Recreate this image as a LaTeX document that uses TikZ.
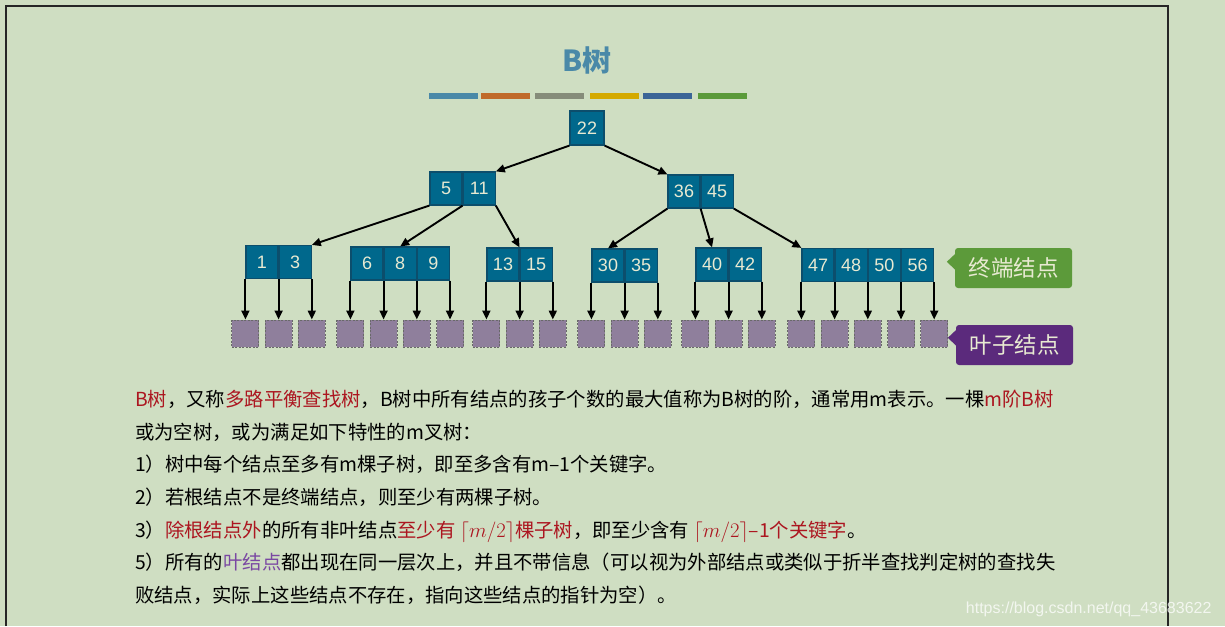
\documentclass[tikz,border=0pt]{standalone}
\usepackage{fontspec}
\setmainfont{Noto Sans CJK SC}
\newfontfamily\numfont{Liberation Sans}
\usetikzlibrary{arrows.meta, positioning, calc}

\definecolor{bgcol}{RGB}{207,222,194}
\definecolor{keyfill}{RGB}{0,104,140}
\definecolor{keyline}{RGB}{12,78,108}
\definecolor{keytext}{RGB}{232,234,210}
\definecolor{leaffill}{RGB}{143,127,156}
\definecolor{leafline}{RGB}{105,105,105}
\definecolor{titlecol}{RGB}{74,137,168}
\definecolor{redtxt}{RGB}{172,22,32}
\definecolor{purtxt}{RGB}{122,72,162}
\definecolor{termcol}{RGB}{92,154,58}
\definecolor{leafcol}{RGB}{91,42,124}
\definecolor{barA}{RGB}{74,137,168}
\definecolor{barB}{RGB}{192,106,42}
\definecolor{barC}{RGB}{134,140,122}
\definecolor{barD}{RGB}{212,169,0}
\definecolor{barE}{RGB}{59,101,151}
\definecolor{barF}{RGB}{91,154,58}

\tikzset{
  key/.style={draw=keyline, fill=keyfill, line width=1.2pt, minimum width=32pt,
    minimum height=33pt, inner sep=0pt, text=keytext,
    font=\numfont\fontsize{18}{18}\selectfont},
  leaf/.style={draw=leafline, dash pattern=on 2pt off 1.5pt, fill=leaffill,
    line width=1pt, minimum size=27pt, inner sep=0pt},
  arr/.style={line width=1.9pt, -{Triangle[length=9pt,width=8pt]}},
  tagbox/.style={fill=#1, rounded corners=3pt, text=keytext, minimum width=117pt,
    minimum height=40pt, inner sep=0pt, font=\fontsize{22.5}{22.5}\selectfont},
  txtline/.style={anchor=base west, inner sep=0pt, font=\fontsize{19.35}{19.35}\selectfont},
}

\begin{document}
\begin{tikzpicture}[x=1pt, y=-1pt]
  \useasboundingbox[fill=bgcol] (0,0) rectangle (1225,626);
  \draw[line width=1.5pt, black!85] (6,626) -- (6,6) -- (1168,6) -- (1168,626);

  % title and colour bars
  \node[text=titlecol, font=\bfseries\fontsize{29}{29}\selectfont] (title) at (587,60) {B树};
  \foreach \x/\c in {429/barA, 481/barB, 535/barC, 590/barD, 643/barE, 698/barF}
    \fill[\c] (\x,93) rectangle ++(49,6);

  % root
  \node[key, minimum width=34pt, minimum height=34pt] (k22) at (587,128) {22};

  % second level
  \node[key] (k5) at (446,188.5) {5};
  \node[key, right=0pt of k5] (k11) {11};
  \node[key] (k36) at (684,191.5) {36};
  \node[key, right=0pt of k36] (k45) {45};

  % terminal level
  \node[key] (k1) at (262,262) {1};
  \node[key, right=0pt of k1] (k3) {3};
  \node[key] (k6) at (367,263.5) {6};
  \node[key, right=0pt of k6] (k8) {8};
  \node[key, right=0pt of k8] (k9) {9};
  \node[key] (k13) at (503,264.5) {13};
  \node[key, right=0pt of k13] (k15) {15};
  \node[key] (k30) at (608,265.5) {30};
  \node[key, right=0pt of k30] (k35) {35};
  \node[key] (k40) at (712,264.5) {40};
  \node[key, right=0pt of k40] (k42) {42};
  \node[key] (k47) at (818,265) {47};
  \node[key, right=0pt of k47] (k48) {48};
  \node[key, right=0pt of k48] (k50) {50};
  \node[key, right=0pt of k50] (k56) {56};

  \draw[arr] (k22.south west) -- (k11.north east);
  \draw[arr] (k22.south east) -- (k36.north west);
  \draw[arr] (k5.south west) -- (k3.north east);
  \draw[arr] (k5.south east) -- (k8.north);
  \draw[arr] (k11.south east) -- (k13.north east);
  \draw[arr] (k36.south west) -- (k30.north);
  \draw[arr] (k36.south east) -- (k40.north);
  \draw[arr] (k45.south east) -- (k47.north west);

  % leaves
  \coordinate (lrow) at (0,333.5);
  \foreach \a [count=\i] in {k1.south west, k1.south east, k3.south east,
      k6.south west, k6.south east, k8.south east, k9.south east,
      k13.south west, k13.south east, k15.south east,
      k30.south west, k30.south east, k35.south east,
      k40.south west, k40.south east, k42.south east,
      k47.south west, k47.south east, k48.south east, k50.south east, k56.south east}
  {
    \node[leaf] (l\i) at (\a |- lrow) {};
    \draw[arr] (\a) -- (l\i);
  }

  % labels
  \node[tagbox=termcol] (term) at (1013.5,268) {终端结点};
  \fill[termcol] ($(term.north west)+(0.5,6)$) -- ($(term.north west)+(-8,14)$)
    -- ($(term.north west)+(0.5,22)$) -- cycle;
  \node[tagbox=leafcol] (leafs) at (1014.5,345) {叶子结点};
  \fill[leafcol] ($(leafs.north west)+(0.5,5)$) -- ($(leafs.north west)+(-8,13)$)
    -- ($(leafs.north west)+(0.5,21)$) -- cycle;

  % text
  \node[txtline] (t1) at (135,406) {\textcolor{redtxt}{B树}，又称\textcolor{redtxt}{多路平衡查找树}，B树中所有结点的孩子个数的最大值称为B树的阶，通常用m表示。一棵\textcolor{redtxt}{m阶B树}};
  \node[txtline] (t2) at (135,439) {或为空树，或为满足如下特性的m叉树：};
  \node[txtline] (t3) at (135,471) {1）树中每个结点至多有m棵子树，即至多含有m–1个关键字。};
  \node[txtline] (t4) at (135,504) {2）若根结点不是终端结点，则至少有两棵子树。};
  \node[txtline] (t5) at (135,537) {3）\textcolor{redtxt}{除根结点外}的所有非叶结点\textcolor{redtxt}{至少有 $\lceil m/2\rceil$棵子树}，即至少含有 \textcolor{redtxt}{$\lceil m/2\rceil$–1个关键字}。};
  \node[txtline] (t6) at (135,569) {5）所有的\textcolor{purtxt}{叶结点}都出现在同一层次上，并且不带信息（可以视为外部结点或类似于折半查找判定树的查找失};
  \node[txtline] (t7) at (135,602) {败结点，实际上这些结点不存在，指向这些结点的指针为空）。};

  \node[anchor=base east, text=white, opacity=0.75, font=\numfont\fontsize{16}{16}\selectfont] (wm) at (1215,613) {https://blog.csdn.net/qq\_43683622};
\end{tikzpicture}
\end{document}
